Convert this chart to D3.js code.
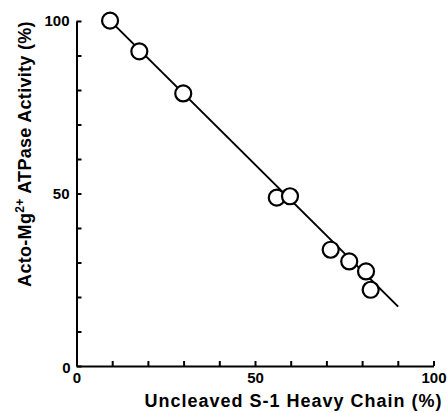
<!DOCTYPE html>
<html>
<head>
<meta charset="utf-8">
<script src="https://cdn.jsdelivr.net/npm/d3@7"></script>
<style>
  body { margin: 0; background: #fff; }
  svg { display: block; }
  .tick text { font-family: "Liberation Sans Narrow", "Liberation Sans", Arial, sans-serif; font-weight: bold; font-size: 15px; fill: #000; }
  .title { font-family: "Liberation Sans", Arial, sans-serif; font-weight: bold; font-size: 18px; fill: #000; }
</style>
</head>
<body>
<div id="chart"></div>
<script>
  // uncleaved S-1 heavy chain (%) vs acto-Mg2+ ATPase activity (%)
  var uncleaved = [9.4, 17.6, 29.9, 56.1, 59.8, 71.2, 76.4, 81.1, 82.4];
  var activity = [100.1, 91.2, 79.0, 48.8, 49.2, 33.7, 30.3, 27.4, 22.1];

  // fitted line end points
  var fitX = [9.4, 90.1];
  var fitY = [100.1, 17.2];

  var xTicks = [0, 10, 20, 30, 40, 50, 60, 70, 80, 90, 100];
  var yTicks = [0, 10, 20, 30, 40, 50, 60, 70, 80, 90, 100];
  var labelTicks = [0, 50, 100];

  var width = 447, height = 413;
  var margin = { top: 21, right: 13.5, bottom: 47, left: 76.5 };

  var svg = d3.select("#chart").append("svg")
    .attr("width", width)
    .attr("height", height);

  var x = d3.scaleLinear()
    .domain([0, 100])
    .range([margin.left, width - margin.right]);

  var y = d3.scaleLinear()
    .domain([0, 100])
    .range([height - margin.bottom, margin.top]);

  var fmt = function (d) {
    return labelTicks.indexOf(d) >= 0 ? d : "";
  };

  // x axis, ticks pointing up
  var gx = svg.append("g")
    .attr("transform", "translate(0," + y(0) + ")")
    .call(d3.axisBottom(x)
      .tickValues(xTicks)
      .tickSizeInner(-5)
      .tickSizeOuter(0)
      .tickPadding(6)
      .tickFormat(fmt));

  // y axis, ticks pointing right
  var gy = svg.append("g")
    .attr("transform", "translate(" + x(0) + ",0)")
    .call(d3.axisLeft(y)
      .tickValues(yTicks)
      .tickSizeInner(-5)
      .tickSizeOuter(0)
      .tickPadding(7)
      .tickFormat(fmt));

  svg.selectAll(".domain").attr("stroke", "#000").attr("stroke-width", 2);
  svg.selectAll(".tick line").attr("stroke", "#000").attr("stroke-width", 2);

  // the y zero sits a little apart from the corner
  gy.selectAll(".tick text").filter(function (d) { return d === 0; })
    .attr("dy", "0.45em").attr("x", -6);

  // fitted line
  var line = d3.line()
    .x(function (d) { return x(d[0]); })
    .y(function (d) { return y(d[1]); });

  svg.append("path")
    .datum(d3.zip(fitX, fitY))
    .attr("d", line)
    .attr("fill", "none")
    .attr("stroke", "#000")
    .attr("stroke-width", 2);

  // open circles
  svg.selectAll("circle.pt")
    .data(d3.zip(uncleaved, activity))
    .enter()
    .append("circle")
    .attr("class", "pt")
    .attr("cx", function (d) { return x(d[0]); })
    .attr("cy", function (d) { return y(d[1]); })
    .attr("r", 8)
    .attr("fill", "#fff")
    .attr("stroke", "#000")
    .attr("stroke-width", 2.2);

  // axis titles
  svg.append("text")
    .attr("class", "title")
    .attr("x", 293.5)
    .attr("y", 407)
    .attr("text-anchor", "middle")
    .style("letter-spacing", "1px")
    .text("Uncleaved S-1 Heavy Chain (%)");

  var yt = svg.append("text")
    .attr("class", "title")
    .attr("transform", "translate(31,154) rotate(-90)")
    .attr("text-anchor", "middle")
    .style("letter-spacing", "0.3px");
  yt.append("tspan").text("Acto-Mg");
  yt.append("tspan").attr("font-size", "12px").attr("dy", "-7").text("2+");
  yt.append("tspan").attr("dy", "7").text(" ATPase Activity (%)");
</script>
</body>
</html>
